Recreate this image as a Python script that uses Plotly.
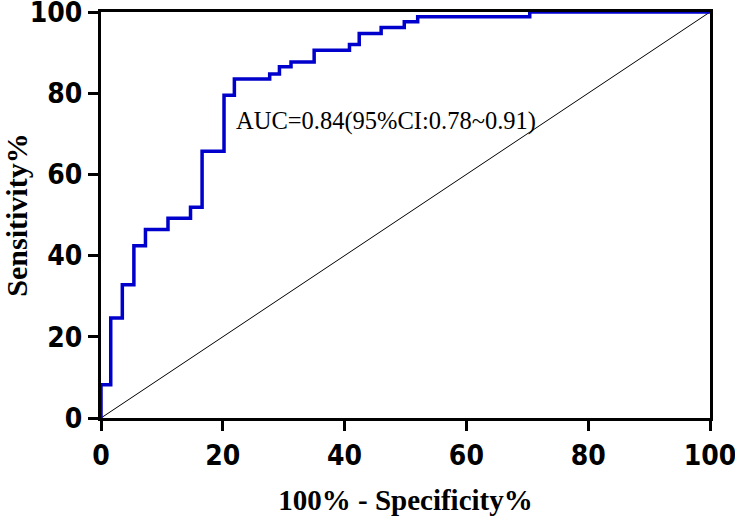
import plotly.graph_objects as go

# ROC curve corner points (in %)
fpr = [0, 0, 1.6, 1.6, 3.5, 3.5, 5.4, 5.4, 7.3, 7.3, 11.0, 11.0, 14.7, 14.7,
       16.6, 16.6, 20.2, 20.2, 21.9, 21.9, 27.7, 27.7, 29.3, 29.3, 31.2, 31.2,
       35.0, 35.0, 40.8, 40.8, 42.4, 42.4, 46.0, 46.0, 49.8, 49.8, 52.0, 52.0,
       70.4, 70.4, 100]
sens = [0, 8.2, 8.2, 24.6, 24.6, 32.8, 32.8, 42.4, 42.4, 46.4, 46.4, 49.2, 49.2,
        51.9, 51.9, 65.7, 65.7, 79.5, 79.5, 83.5, 83.5, 84.7, 84.7, 86.5, 86.5,
        87.7, 87.7, 90.6, 90.6, 92.0, 92.0, 94.7, 94.7, 96.2, 96.2, 97.6, 97.6,
        98.8, 98.8, 100, 100]
ref_line = [0, 100]
tick_vals = [0, 20, 40, 60, 80, 100]
auc_text = "AUC=0.84(95%CI:0.78~0.91)"

fig = go.Figure()
fig.add_trace(go.Scatter(x=ref_line, y=ref_line, mode="lines",
                         line=dict(color="black", width=1), showlegend=False))
fig.add_trace(go.Scatter(x=fpr, y=sens, mode="lines",
                         line=dict(color="#0000CC", width=3.5), showlegend=False))

fig.add_annotation(x=21.8, y=73.2, text=auc_text, showarrow=False, xanchor="left",
                   font=dict(family="Liberation Serif", size=24.5, color="black"))

axis_style = dict(range=[0, 100], tickvals=tick_vals, showgrid=False, zeroline=False,
                  showline=True, linecolor="black", linewidth=3, mirror=True,
                  ticks="outside", ticklen=10, tickwidth=3, tickcolor="black",
                  automargin=False, ticklabeloverflow="allow",
                  tickfont=dict(family="DejaVu Sans Condensed", size=28,
                                color="black", weight="bold"))

fig.update_xaxes(**axis_style,
                 title=dict(text="<b>100% - Specificity%</b>", standoff=22,
                            font=dict(family="Liberation Serif", size=29, color="black")))
fig.update_yaxes(**axis_style,
                 title=dict(text="<b>Sensitivity%</b>", standoff=27,
                            font=dict(family="Liberation Serif", size=30, color="black")))

fig.update_layout(width=735, height=516, plot_bgcolor="white", paper_bgcolor="white",
                  margin=dict(l=101, r=25, t=12, b=98))

# drop the page's default body margin so the figure sits at the window's corner
fig.write_html("out.html", config={"displayModeBar": False},
               post_script="document.body.style.margin='0';")
